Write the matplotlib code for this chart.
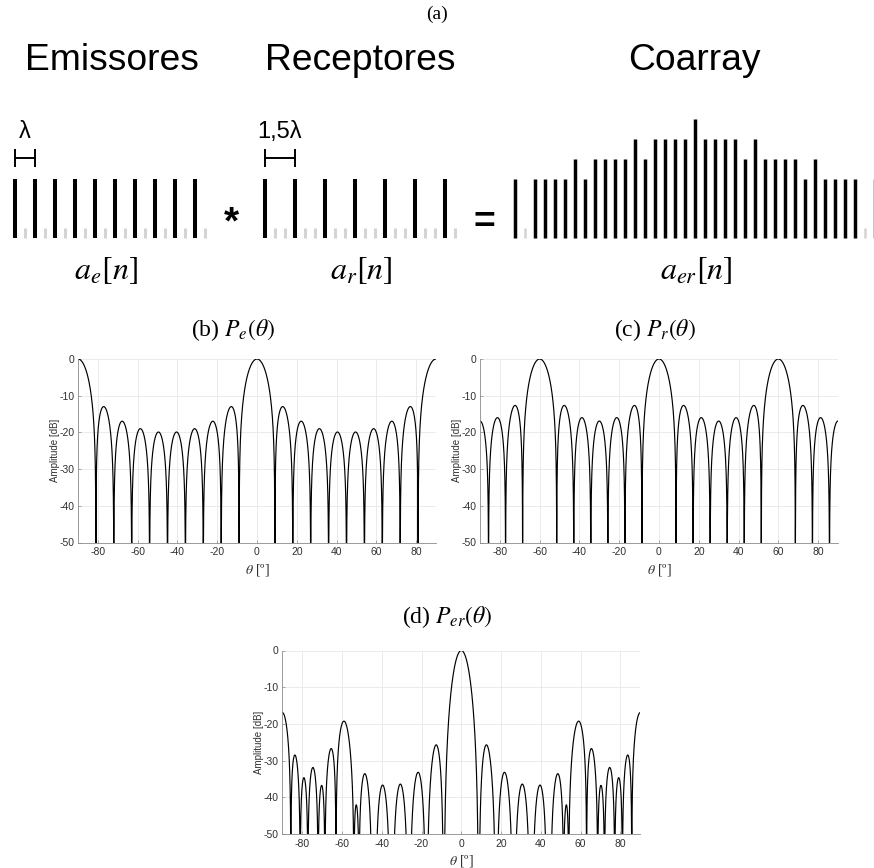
import numpy as np
import matplotlib
matplotlib.use("Agg")
import matplotlib.pyplot as plt

plt.rcParams["font.family"] = ["Liberation Sans", "DejaVu Sans"]
plt.rcParams["mathtext.fontset"] = "stix"
plt.rcParams["axes.unicode_minus"] = False

# Element weights on a half-wavelength grid (index n -> position n * 0.5 lambda)
emit_weights = [1, 0, 1, 0, 1, 0, 1, 0, 1, 0, 1, 0, 1, 0, 1, 0, 1, 0, 1, 0]
recv_weights = [1, 0, 0, 1, 0, 0, 1, 0, 0, 1, 0, 0, 1, 0, 0, 1, 0, 0, 1, 0]
coarray_weights = [1, 0, 1, 1, 1, 1, 2, 1, 2, 2, 2, 2, 3, 2, 3, 3, 3, 3, 4,
                   3, 3, 3, 3, 2, 3, 2, 2, 2, 2, 1, 2, 1, 1, 1, 1, 0, 1]
grid_step = 0.5  # wavelengths per grid index

theta_ticks = [-80, -60, -40, -20, 0, 20, 40, 60, 80]
amp_ticks = [-50, -40, -30, -20, -10, 0]

W, H = 874, 868
fig = plt.figure(figsize=(W / 100, H / 100), dpi=100)


def fx(px):
    return px / W


def fy(py):
    return 1 - py / H


SERIF = "Liberation Serif"

# ---------------- (a) array diagrams ----------------
fig.text(fx(437), fy(14), "(a)", ha="center", va="center",
         family=SERIF, fontsize=14)
for label, xc in [("Emissores", 112), ("Receptores", 360), ("Coarray", 694)]:
    fig.text(fx(xc), fy(61), label, ha="center", va="center", fontsize=26.8)

ax_a = fig.add_axes([0, fy(250), 1, (250 - 90) / H])
ax_a.set_xlim(-1.5, 85.9)
ax_a.set_ylim(-2.55, 5.45)
ax_a.axis("off")

base = -1.95
offsets = {"e": 0, "r": 25, "c": 50}


def draw_array(weights, x0, lw_on, lw_off):
    w = np.asarray(weights, dtype=float)
    n = np.arange(len(w)) + x0
    on = w > 0
    ax_a.vlines(n[on], base, w[on], color="black", lw=lw_on)
    ax_a.vlines(n[~on], base, base + 0.5, color="#d4d4d4", lw=lw_off)


draw_array(emit_weights, offsets["e"], 2.9, 2.2)
draw_array(recv_weights, offsets["r"], 2.9, 2.2)
draw_array(coarray_weights, offsets["c"], 2.5, 1.8)


def spacing_bracket(x0, x1, y, label):
    ax_a.plot([x0, x1], [y, y], color="black", lw=1.4)
    ax_a.vlines([x0, x1], y - 0.45, y + 0.45, color="black", lw=1.4)
    ax_a.text((x0 + x1) / 2, y + 0.75, label, ha="center", va="bottom",
              fontsize=17)


spacing_bracket(offsets["e"], offsets["e"] + 1 / grid_step, 2.05, "λ")
spacing_bracket(offsets["r"], offsets["r"] + 1.5 / grid_step, 2.05, "1,5λ")

ax_a.text(21.6, -1.2, "*", ha="center", va="center", fontsize=28,
          fontweight="bold")
ax_a.text(46.9, -1.2, "=", ha="center", va="center", fontsize=27,
          fontweight="bold")

for lab, xc in [(r"$a_e[n]$", 106), (r"$a_r[n]$", 361), (r"$a_{er}[n]$", 696)]:
    fig.text(fx(xc), fy(271), lab, ha="center", va="center", fontsize=23)

# ---------------- beam patterns ----------------
theta = np.linspace(-90, 90, 36001)
u = theta / 90.0


def pattern_db(weights):
    w = np.asarray(weights, dtype=float)
    pos = np.arange(len(w)) * grid_step
    af = np.abs(np.exp(2j * np.pi * np.outer(u, pos)) @ w)
    af = af / af.max()
    return 20 * np.log10(np.maximum(af, 1e-12))


def beam_axes(rect, weights):
    ax = fig.add_axes(rect)
    ax.plot(theta, pattern_db(weights), color="black", lw=0.85)
    ax.set_xlim(-90, 90)
    ax.set_ylim(-50, 0)
    ax.set_xticks(theta_ticks)
    ax.set_yticks(amp_ticks)
    ax.grid(True, color="#e8e8e8", lw=0.6)
    ax.set_axisbelow(True)
    for s in ("top", "right"):
        ax.spines[s].set_visible(False)
    for s in ("left", "bottom"):
        ax.spines[s].set_color("#8a8a8a")
        ax.spines[s].set_linewidth(0.6)
    ax.tick_params(axis="x", pad=3.5)
    ax.tick_params(axis="y", pad=2.5)
    ax.tick_params(direction="in", length=2, width=0.5, color="#8a8a8a",
                   labelsize=7.5, labelcolor="#303030")
    ax.set_ylabel("Amplitude [dB]", fontsize=7, color="#303030",
                  labelpad=-0.5)
    ax.set_xlabel(r"$\theta$ [º]", fontsize=10, color="#303030", labelpad=3,
                  family=SERIF)
    return ax


aw, ah = 358 / W, 183.5 / H
beam_axes([fx(78), fy(542.5), aw, ah], emit_weights)
beam_axes([fx(480), fy(542.5), aw, ah], recv_weights)
beam_axes([fx(282.3), fy(834), aw, ah], coarray_weights)

for title, xc, yc in [(r"(b) $P_e(\theta)$", 233, 330),
                      (r"(c) $P_r(\theta)$", 655, 330),
                      (r"(d) $P_{er}(\theta)$", 447, 617)]:
    fig.text(fx(xc), fy(yc), title, ha="center", va="center",
             family=SERIF, fontsize=17)

fig.savefig("out.png", dpi=100)
